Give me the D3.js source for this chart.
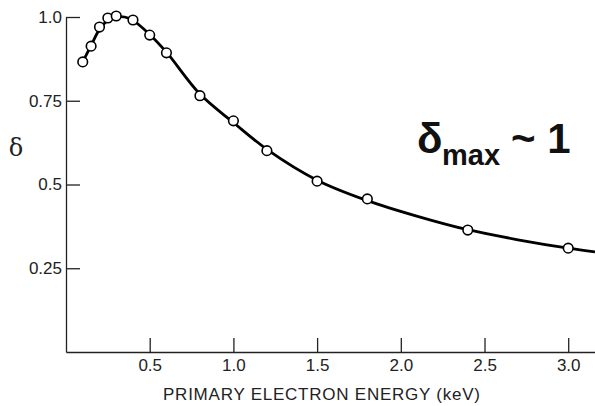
<!DOCTYPE html>
<html>
<head>
<meta charset="utf-8">
<script src="https://cdn.jsdelivr.net/npm/d3@7"></script>
<style>
  body { margin: 0; background: #fff; }
  svg { display: block; }
</style>
</head>
<body>
<script>
// measured points (energy in keV, yield delta)
var pointEnergy = [0.1, 0.15, 0.2, 0.25, 0.3, 0.4, 0.5, 0.6, 0.8, 1.0, 1.2, 1.5, 1.8, 2.4, 3.0];
var pointDelta  = [0.866, 0.913, 0.970, 0.997, 1.003, 0.991, 0.946, 0.893, 0.765, 0.690, 0.601, 0.510, 0.457, 0.364, 0.310];

// smooth fitted curve
var curveEnergy = [0.1, 0.15, 0.2, 0.25, 0.3, 0.35, 0.4, 0.5, 0.6, 0.8, 1.0, 1.2, 1.5, 1.8, 2.1, 2.4, 2.7, 3.0, 3.16];
var curveDelta  = [0.866, 0.915, 0.963, 0.99, 1.0, 1.0, 0.99, 0.948, 0.895, 0.77, 0.685, 0.605, 0.513, 0.452, 0.405, 0.365, 0.335, 0.31, 0.299];

var xTicks = [0.5, 1.0, 1.5, 2.0, 2.5, 3.0];
var yTicks = [0.25, 0.5, 0.75, 1.0];
var yTickLabels = ["0.25", "0.5", "0.75", "1.0"];

var svgWidth = 595, svgHeight = 406;
var x0 = 66, y0 = 352;

var svg = d3.select("body").append("svg")
    .attr("width", svgWidth)
    .attr("height", svgHeight);

var xScale = d3.scaleLinear().domain([0, 3.16]).range([x0, 595]);
var yScale = d3.scaleLinear().domain([0, 1.0]).range([y0, 17]);

var tickFont = "'Liberation Sans', Arial, sans-serif";

// x axis, ticks pointing up
var xAxis = svg.append("g")
    .attr("transform", "translate(0," + y0 + ")")
    .call(d3.axisBottom(xScale)
      .tickValues(xTicks)
      .tickSizeInner(-14)
      .tickSizeOuter(0)
      .tickPadding(7)
      .tickFormat(d3.format(".1f")));

// y axis, ticks pointing right
var yAxis = svg.append("g")
    .attr("transform", "translate(" + x0 + ",0)")
    .call(d3.axisLeft(yScale)
      .tickValues(yTicks)
      .tickSizeInner(-14)
      .tickSizeOuter(0)
      .tickPadding(4)
      .tickFormat(function(d, i){ return yTickLabels[i]; }));

[xAxis, yAxis].forEach(function(ax){
  ax.select(".domain").attr("stroke", "#222").attr("stroke-width", 1.3);
  ax.selectAll(".tick line").attr("stroke", "#222").attr("stroke-width", 1.3);
  ax.selectAll(".tick text")
    .attr("fill", "#222")
    .style("font-family", tickFont)
    .style("font-size", "17px");
});

// curve
var line = d3.line()
    .x(function(d){ return xScale(d[0]); })
    .y(function(d){ return yScale(d[1]); })
    .curve(d3.curveCatmullRom.alpha(0.5));

svg.append("path")
    .datum(curveEnergy.map(function(e, i){ return [e, curveDelta[i]]; }))
    .attr("d", line)
    .attr("fill", "none")
    .attr("stroke", "#000")
    .attr("stroke-width", 2.8);

// data points
svg.selectAll("circle.pt")
    .data(pointEnergy.map(function(e, i){ return [e, pointDelta[i]]; }))
    .enter()
    .append("circle")
    .attr("class", "pt")
    .attr("cx", function(d){ return xScale(d[0]); })
    .attr("cy", function(d){ return yScale(d[1]); })
    .attr("r", 4.8)
    .attr("fill", "#fff")
    .attr("stroke", "#000")
    .attr("stroke-width", 1.6);

// y label
svg.append("text")
    .attr("x", 16)
    .attr("y", 156)
    .attr("text-anchor", "middle")
    .style("font-family", "'DejaVu Serif', serif")
    .style("font-size", "24px")
    .attr("fill", "#222")
    .text("δ");

// x label
svg.append("text")
    .attr("x", 163)
    .attr("y", 400)
    .attr("textLength", 317)
    .attr("lengthAdjust", "spacing")
    .style("font-family", tickFont)
    .style("font-size", "17px")
    .attr("fill", "#222")
    .text("PRIMARY ELECTRON ENERGY (keV)");

// annotation
var ann = svg.append("text")
    .style("font-family", "'Liberation Sans', Arial, sans-serif")
    .style("font-weight", "bold")
    .attr("fill", "#111");
ann.append("tspan").attr("x", 417).attr("y", 153).style("font-size", "42px").text("δ");
ann.append("tspan").attr("x", 442).attr("y", 165).style("font-size", "29px").text("max");
ann.append("tspan").attr("x", 511).attr("y", 153).style("font-size", "42px").text("~ 1");
</script>
</body>
</html>
